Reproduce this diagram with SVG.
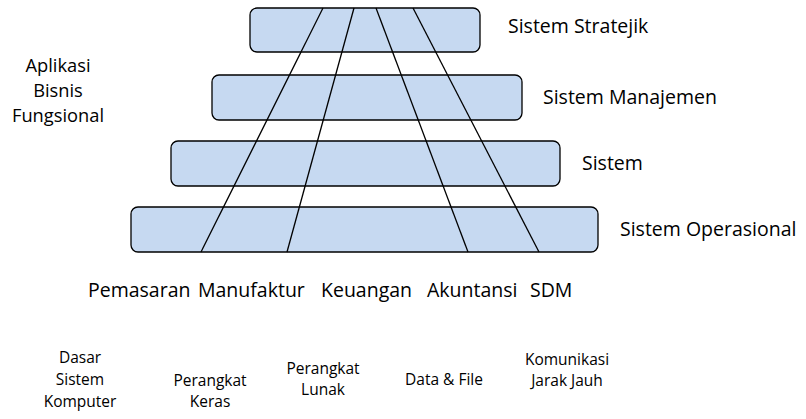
<svg xmlns="http://www.w3.org/2000/svg" width="806" height="419" viewBox="0 0 806 419">
  <style>
    .tier { fill: #c6d9f1; stroke: #000; stroke-width: 1.3; }
    .div { stroke: #000; stroke-width: 1.3; fill: none; }
    text { font-family: "Open Sans", "Noto Sans", sans-serif; fill: #000; }
    .lbl { font-size: 19.5px; }
    .side { font-size: 18.3px; text-anchor: middle; }
    .sm { font-size: 15.5px; text-anchor: middle; }
  </style>
  <rect width="806" height="419" fill="#fff"/>

  <!-- pyramid tiers -->
  <g id="tier-strategic"><rect class="tier" x="250" y="8" width="230" height="44" rx="7"/></g>
  <g id="tier-management"><rect class="tier" x="212" y="75" width="310" height="45" rx="7"/></g>
  <g id="tier-system"><rect class="tier" x="171" y="141" width="389" height="45" rx="7"/></g>
  <g id="tier-operational"><rect class="tier" x="131" y="207" width="467" height="45" rx="7"/></g>

  <!-- functional dividers -->
  <g id="connectors">
    <line class="div" x1="323" y1="8" x2="201" y2="252"/>
    <line class="div" x1="354" y1="8" x2="287" y2="252"/>
    <line class="div" x1="376" y1="8" x2="468" y2="252"/>
    <line class="div" x1="413" y1="8" x2="539" y2="252"/>
  </g>

  <!-- tier labels -->
  <g id="tier-labels">
    <text class="lbl" x="508" y="33">Sistem Stratejik</text>
    <text class="lbl" x="543" y="104">Sistem Manajemen</text>
    <text class="lbl" x="582" y="170">Sistem</text>
    <text class="lbl" x="620" y="236">Sistem Operasional</text>
  </g>

  <g id="side-label">
    <text class="side" x="58" y="71.5">Aplikasi</text>
    <text class="side" x="58" y="96.5">Bisnis</text>
    <text class="side" x="58" y="121.5">Fungsional</text>
  </g>

  <!-- business functions -->
  <g id="functions">
    <text class="lbl" x="88" y="297">Pemasaran</text>
    <text class="lbl" x="198" y="297">Manufaktur</text>
    <text class="lbl" x="321" y="297">Keuangan</text>
    <text class="lbl" x="427" y="297">Akuntansi</text>
    <text class="lbl" x="530" y="297">SDM</text>
  </g>

  <!-- foundations -->
  <g id="foundations">
    <text class="sm" x="80" y="363">Dasar</text>
    <text class="sm" x="80" y="385">Sistem</text>
    <text class="sm" x="80" y="407">Komputer</text>
    <text class="sm" x="210" y="386">Perangkat</text>
    <text class="sm" x="210" y="407">Keras</text>
    <text class="sm" x="323" y="374">Perangkat</text>
    <text class="sm" x="323" y="395">Lunak</text>
    <text class="sm" x="444" y="385">Data &amp; File</text>
    <text class="sm" x="567" y="365">Komunikasi</text>
    <text class="sm" x="567" y="386">Jarak Jauh</text>
  </g>
</svg>
